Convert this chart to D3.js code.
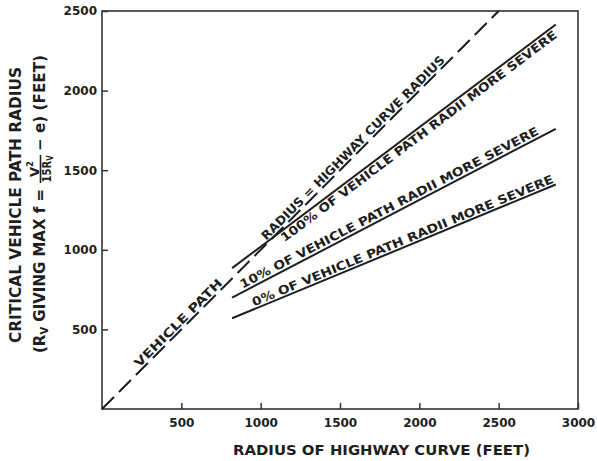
<!DOCTYPE html>
<html><head><meta charset="utf-8">
<script src="https://cdn.jsdelivr.net/npm/d3@7"></script>
<style>body{margin:0;background:#fff}svg{display:block}</style>
</head><body>
<svg id="chart" width="597" height="461"></svg>
<script>
// ---- data ----
const xTicks = [500, 1000, 1500, 2000, 2500, 3000];
const yTicks = [500, 1000, 1500, 2000, 2500];
const equalityLine = [[0, 0], [2500, 2500]];        // radius = highway curve radius
const line100 = [[820, 885], [2860, 2415]];          // 100% of vehicle path radii more severe
const line10  = [[820, 700], [2860, 1760]];          // 10%
const line0   = [[820, 570], [2860, 1410]];          // 0%
const lineLabels = [
  "VEHICLE PATH",
  "RADIUS = HIGHWAY CURVE RADIUS",
  "100% OF VEHICLE PATH RADII MORE SEVERE",
  "10% OF VEHICLE PATH RADII MORE SEVERE",
  "0% OF VEHICLE PATH RADII MORE SEVERE"
];
const xTitle = "RADIUS OF HIGHWAY CURVE (FEET)";
const yTitle1 = "CRITICAL VEHICLE PATH RADIUS";

// ---- drawing ----
const svg = d3.select("#chart");
const FONT = "DejaVu Sans";
const INK = "#1e1e1e";
const x = d3.scaleLinear().domain([0, 3000]).range([102, 578]);
const y = d3.scaleLinear().domain([0, 2500]).range([409, 11]);

// frame
svg.append("rect")
  .attr("x", x(0)).attr("y", y(2500))
  .attr("width", x(3000) - x(0)).attr("height", y(0) - y(2500))
  .attr("fill", "none").attr("stroke", "#333").attr("stroke-width", 1.6);

// axes
const fmt = d3.format("d");
const gx = svg.append("g").attr("transform", `translate(0,${y(0)})`)
  .call(d3.axisBottom(x).tickValues(xTicks).tickFormat(fmt).tickSizeInner(-6).tickSizeOuter(0).tickPadding(9));
const gy = svg.append("g").attr("transform", `translate(${x(0)},0)`)
  .call(d3.axisLeft(y).tickValues(yTicks).tickFormat(fmt).tickSizeInner(-6).tickSizeOuter(0).tickPadding(5));
[gx, gy].forEach(g => {
  g.select(".domain").remove();
  g.selectAll(".tick line").attr("stroke", "#333").attr("stroke-width", 1.5);
  g.selectAll(".tick text").attr("fill", INK)
    .style("font-family", FONT).style("font-weight", "bold").style("font-size", "12px");
});

// lines
const lineGen = d3.line().x(d => x(d[0])).y(d => y(d[1]));
svg.append("path").datum(equalityLine).attr("d", lineGen)
  .attr("fill", "none").attr("stroke", INK).attr("stroke-width", 2)
  .attr("stroke-dasharray", "17,7");
[line100, line10, line0].forEach(L => {
  svg.append("path").datum(L).attr("d", lineGen)
    .attr("fill", "none").attr("stroke", INK).attr("stroke-width", 2);
});

// labels along lines
function place(L, text, ax, dy, len) {
  const x0 = x(L[0][0]), y0 = y(L[0][1]), x1 = x(L[1][0]), y1 = y(L[1][1]);
  const t = (ax - x0) / (x1 - x0);
  const py = y0 + t * (y1 - y0);
  const ang = Math.atan2(y1 - y0, x1 - x0) * 180 / Math.PI;
  svg.append("text")
    .attr("transform", `translate(${ax},${py}) rotate(${ang})`)
    .attr("x", 0).attr("y", dy)
    .attr("textLength", len).attr("lengthAdjust", "spacingAndGlyphs")
    .attr("fill", INK)
    .style("font-family", FONT).style("font-weight", "bold").style("font-size", "12px")
    .text(text);
}
place(equalityLine, lineLabels[0], 141, -2.5, 119);
place(equalityLine, lineLabels[1], 268, -2.5, 254);
place(line100, lineLabels[2], 278, 11, 342);
place(line10, lineLabels[3], 244, -3, 335);
place(line0, lineLabels[4], 255, -2.5, 325);

// x axis title
svg.append("text").attr("x", 233).attr("y", 455)
  .attr("textLength", 297).attr("lengthAdjust", "spacingAndGlyphs")
  .attr("fill", INK)
  .style("font-family", FONT).style("font-weight", "bold").style("font-size", "14.5px")
  .text(xTitle);

// y axis title (rotated)
const gt = svg.append("g").attr("transform", "rotate(-90)").attr("fill", INK)
  .style("font-family", FONT).style("font-weight", "bold");
gt.append("text").attr("x", -343).attr("y", 20.5)
  .attr("textLength", 276).attr("lengthAdjust", "spacingAndGlyphs")
  .style("font-size", "15px").text(yTitle1);

const tA = gt.append("text").attr("x", -353).attr("y", 44.5)
  .attr("textLength", 164).attr("lengthAdjust", "spacingAndGlyphs")
  .style("font-size", "15px");
tA.append("tspan").text("(R");
tA.append("tspan").attr("dy", 3).style("font-size", "10px").text("V");
tA.append("tspan").attr("dy", -3).text(" GIVING MAX  f =");

const num = gt.append("text").attr("x", -169).attr("y", 38.5)
  .attr("text-anchor", "middle").style("font-size", "13px");
num.append("tspan").text("V");
num.append("tspan").attr("dy", -5.5).style("font-size", "8.5px").text("2");
gt.append("line").attr("x1", -183).attr("x2", -155).attr("y1", 40.5).attr("y2", 40.5)
  .attr("stroke", INK).attr("stroke-width", 1.6);
const den = gt.append("text").attr("x", -169).attr("y", 50.5)
  .attr("text-anchor", "middle").attr("textLength", 27).attr("lengthAdjust", "spacingAndGlyphs")
  .style("font-size", "12.5px");
den.append("tspan").text("15R");
den.append("tspan").attr("dy", 2.5).style("font-size", "8.5px").text("V");

gt.append("text").attr("x", -151).attr("y", 44.5)
  .attr("textLength", 96).attr("lengthAdjust", "spacingAndGlyphs")
  .style("font-size", "15px").text("− e)  (FEET)");
</script>
</body></html>
